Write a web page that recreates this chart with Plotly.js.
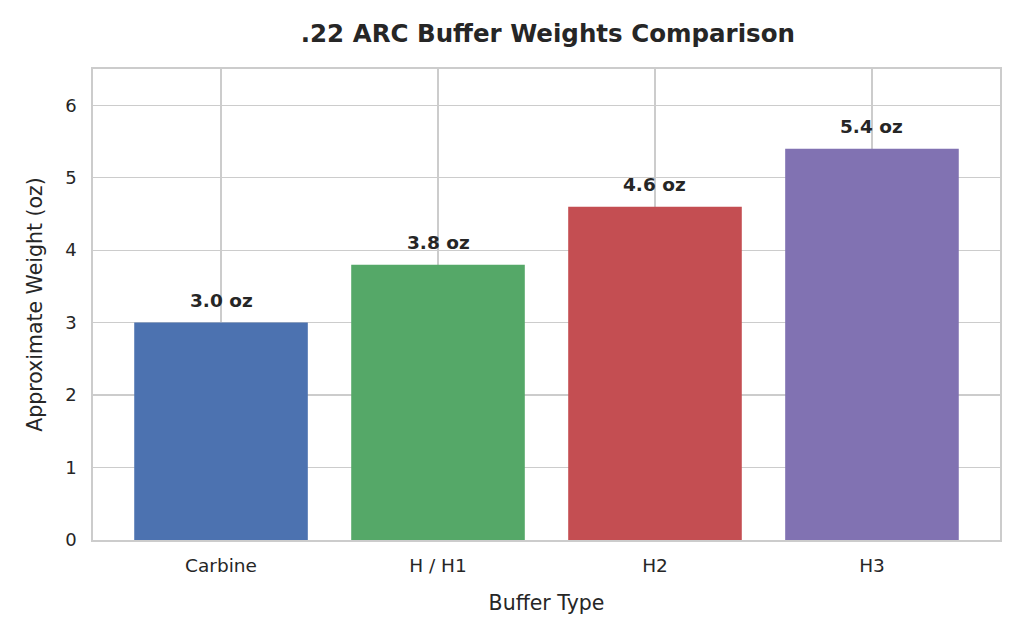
<!DOCTYPE html>
<html>
<head>
<meta charset="utf-8">
<script src="https://cdn.plot.ly/plotly-3.0.1.min.js"></script>
<style>
  html, body { margin: 0; padding: 0; background: #fff; }
  #chart { width: 1024px; height: 640px; }
</style>
</head>
<body>
<div id="chart"></div>
<script>
// buffer types and their approximate weights
const bufferTypes = ['Carbine', 'H / H1', 'H2', 'H3'];
const weightsOz = [3.0, 3.8, 4.6, 5.4];
const barColors = ['#4C72B0', '#55A868', '#C44E52', '#8172B2'];
const yTicks = [0, 1, 2, 3, 4, 5, 6];

const FONT = 'DejaVu Sans, sans-serif';

const data = [{
    x: bufferTypes,
    y: weightsOz,
    type: 'bar',
    width: 0.8,
    marker: { color: barColors, line: { width: 0 } },
    hoverinfo: 'skip',
}];

// labels above each bar
const annotations = bufferTypes.map((b, i) => ({
    x: b,
    y: weightsOz[i] + 0.3,
    text: '<b>' + weightsOz[i].toFixed(1) + ' oz</b>',
    showarrow: false,
    xanchor: 'center',
    yanchor: 'middle',
    font: { family: FONT, size: 18.5, color: '#262626' },
}));

const layout = {
    width: 1024,
    height: 640,
    margin: { l: 93, r: 24, t: 69, b: 100 },
    paper_bgcolor: '#ffffff',
    plot_bgcolor: '#ffffff',
    font: { family: FONT, color: '#262626' },
    title: {
        text: '<b>.22 ARC Buffer Weights Comparison</b>',
        font: { family: FONT, size: 24.5, color: '#262626' },
        x: 0.535, xanchor: 'center',
        y: 0.948, yanchor: 'middle',
    },
    xaxis: {
        type: 'category',
        range: [-0.59, 3.59],
        showgrid: true,
        gridcolor: '#cccccc',
        gridwidth: 1.2,
        showline: true,
        linecolor: '#cccccc',
        linewidth: 1.8,
        mirror: true,
        ticks: '',
        ticklabelstandoff: 8,
        tickfont: { family: FONT, size: 18.5, color: '#262626' },
        title: { text: 'Buffer Type', font: { family: FONT, size: 20.5, color: '#262626' }, standoff: 21 },
        zeroline: false,
    },
    yaxis: {
        range: [0, 6.5],
        tickvals: yTicks,
        showgrid: true,
        gridcolor: '#cccccc',
        gridwidth: 1.2,
        showline: true,
        linecolor: '#cccccc',
        linewidth: 1.8,
        mirror: true,
        ticks: '',
        ticklabelstandoff: 11,
        tickfont: { family: FONT, size: 18, color: '#262626' },
        title: { text: 'Approximate Weight (oz)', font: { family: FONT, size: 20.5, color: '#262626' }, standoff: 17 },
        zeroline: false,
    },
    annotations: annotations,
    showlegend: false,
    bargap: 0.2,
};

const config = { responsive: false, displayModeBar: false, staticPlot: true };

Plotly.newPlot('chart', data, layout, config);
</script>
</body>
</html>
